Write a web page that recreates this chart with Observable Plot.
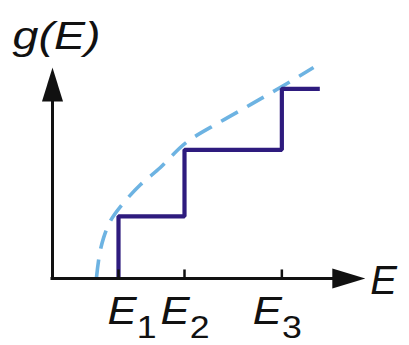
<!DOCTYPE html>
<html>
<head>
<meta charset="utf-8">
<script src="https://cdn.jsdelivr.net/npm/d3@7"></script>
<script src="https://cdn.jsdelivr.net/npm/@observablehq/plot@0.6"></script>
<style>
  html, body { margin: 0; padding: 0; background: #fff; }
  svg { display: block; }
</style>
</head>
<body>
<div id="chart"></div>
<script>
// ---- data (arbitrary energy units) ----
const tickE = [2.0, 4.0, 6.95];             // E1, E2, E3
const tickLabels = ["E1", "E2", "E3"];
const stepE = [2.0, 4.0, 6.95, 8.1];         // staircase corners (step-before)
const stepG = [0, 1.02, 2.11, 3.11];
const curveE = [1.33, 1.42, 1.55, 1.76, 2.06, 2.67, 3.27, 4.03, 5.09, 6.0, 6.9, 7.91];
const curveG = [0, 0.38, 0.67, 0.95, 1.18, 1.54, 1.82, 2.22, 2.57, 2.85, 3.13, 3.46];
const eTip = 9.48, eLineEnd = 8.9;   // x-axis arrow
const gTip = 3.46, gLineEnd = 3.13;  // y-axis arrow
const yTitle = "g(E)";
const xTitle = "E";

const font = "'Liberation Sans', Arial, Helvetica, sans-serif";

const upArrow = {draw(ctx) { ctx.moveTo(0, 0); ctx.lineTo(10.5, 34); ctx.lineTo(-10.5, 34); ctx.closePath(); }};
const rightArrow = {draw(ctx) { ctx.moveTo(0, 0); ctx.lineTo(-33, 10); ctx.lineTo(-33, -10); ctx.closePath(); }};

const curve = curveE.map((e, i) => ({e, g: curveG[i]}));
const steps = stepE.map((e, i) => ({e, g: stepG[i]}));
const labelNudge = [-11, -24, -29];

const chart = Plot.plot({
  width: 409,
  height: 345,
  margin: 0,
  style: {background: "#fff", fontFamily: font},
  x: {domain: [0, 10], range: [52, 382], axis: null},
  y: {domain: [0, 4], range: [278, 34], axis: null},
  marks: [
    // dashed continuous density of states
    Plot.line(curve, {x: "e", y: "g", curve: "catmull-rom", stroke: "#6db3e2", strokeWidth: 3.6,
      strokeDasharray: "19,11", strokeLinecap: "butt"}),
    // staircase
    Plot.line(steps, {x: "e", y: "g", curve: "step-before", stroke: "#2e1b7e", strokeWidth: 4.2,
      strokeLinejoin: "miter", strokeLinecap: "butt"}),
    // axes
    Plot.ruleY([0], {x1: 0, x2: eLineEnd, stroke: "#111", strokeWidth: 3, strokeLinecap: "square"}),
    Plot.ruleX([0], {y1: 0, y2: gLineEnd, stroke: "#111", strokeWidth: 3, strokeLinecap: "square"}),
    Plot.ruleX(tickE, {y1: 0, y2: 0.14, stroke: "#111", strokeWidth: 2.5}),
    Plot.dot([eTip], {x: d => d, y: () => 0, symbol: rightArrow, fill: "#111", stroke: null}),
    Plot.dot([gTip], {x: () => 0, y: d => d, symbol: upArrow, fill: "#111", stroke: null}),
    // tick labels
    ...tickLabels.map((lab, i) => Plot.text([i], {
      x: j => tickE[j], y: () => 0, text: j => tickLabels[j],
      dx: labelNudge[i], dy: 45, textAnchor: "start", lineAnchor: "bottom",
      fontSize: 38, fill: "#111", ariaLabel: () => "tick-label"
    })),
    // axis titles
    Plot.text([xTitle], {x: () => eTip, y: () => 0, text: d => d, dx: 5, dy: 15, textAnchor: "start",
      lineAnchor: "bottom", fontSize: 40, fontStyle: "italic", fill: "#111"}),
    Plot.text([yTitle], {frameAnchor: "top-left", text: d => d, dx: 12, dy: 48, textAnchor: "start",
      lineAnchor: "bottom", fontSize: 38, fontStyle: "italic", fill: "#111", ariaLabel: () => "y-title"})
  ]
});

// subscripts for tick labels
d3.select(chart).selectAll('text[aria-label="tick-label"]').each(function() {
  const t = d3.select(this);
  const s = t.text();
  t.text("");
  t.append("tspan").attr("font-style", "italic").text(s[0]);
  t.append("tspan").attr("font-size", 31).attr("dy", 14).text(s.slice(1));
  t.attr("textLength", 49).attr("lengthAdjust", "spacingAndGlyphs");
});
d3.select(chart).selectAll('text[aria-label="y-title"]')
  .attr("textLength", 88).attr("lengthAdjust", "spacingAndGlyphs");

document.getElementById("chart").appendChild(chart);
</script>
</body>
</html>
